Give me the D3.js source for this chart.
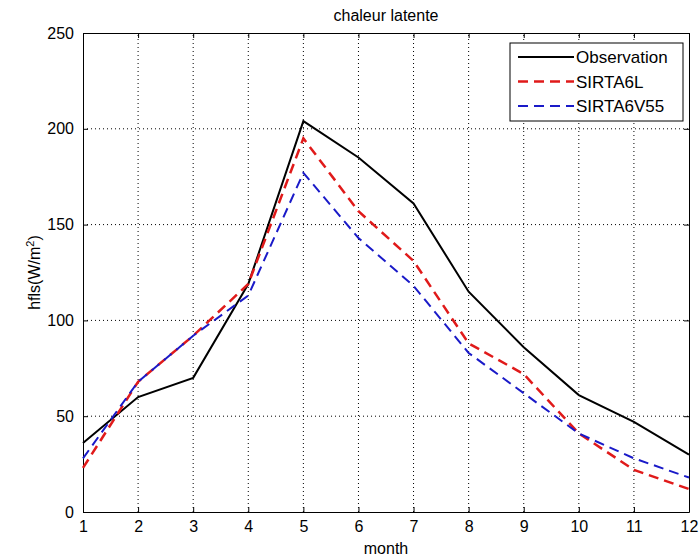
<!DOCTYPE html>
<html>
<head>
<meta charset="utf-8">
<script src="https://cdn.jsdelivr.net/npm/d3@7"></script>
<style>
body { margin: 0; background: #fff; }
text { font-family: "Liberation Sans Narrow", "Liberation Sans", Arial, sans-serif; fill: #000; }
</style>
</head>
<body>
<div id="chart"></div>
<script>
// data
var months = [1, 2, 3, 4, 5, 6, 7, 8, 9, 10, 11, 12];
var observation = [36, 60, 70, 119, 204, 185, 161, 115, 86, 61, 47, 30];
var sirta6l = [23, 68, 92, 119, 195, 157, 131, 88, 72, 41, 22, 12];
var sirta6v55 = [28, 68, 92, 113, 177, 143, 118, 83, 62, 41, 28, 18];
var yTicks = [0, 50, 100, 150, 200, 250];
var seriesNames = ["Observation", "SIRTA6L", "SIRTA6V55"];

var W = 699, H = 559;
var m = {left: 83, right: 10, top: 33, bottom: 47};

var svg = d3.select("#chart").append("svg")
	.attr("width", W).attr("height", H);

var x = d3.scaleLinear().domain([1, 12]).range([m.left, W - m.right]);
var y = d3.scaleLinear().domain([0, 250]).range([H - m.bottom, m.top]);

// dotted grid
svg.append("g").selectAll("line")
	.data(months.slice(1, -1))
	.enter().append("line")
	.attr("x1", function(d){ return x(d); })
	.attr("x2", function(d){ return x(d); })
	.attr("y1", y(0)).attr("y2", y(250))
	.attr("stroke", "#000").attr("stroke-width", 1)
	.attr("stroke-dasharray", "1,3");
svg.append("g").selectAll("line")
	.data(yTicks.slice(1, -1))
	.enter().append("line")
	.attr("y1", function(d){ return y(d); })
	.attr("y2", function(d){ return y(d); })
	.attr("x1", x(1)).attr("x2", x(12))
	.attr("stroke", "#000").attr("stroke-width", 1)
	.attr("stroke-dasharray", "1,3");

// axes, ticks pointing inward
var fontSize = "16px";
svg.append("g")
	.attr("transform", "translate(0," + y(0) + ")")
	.call(d3.axisBottom(x).tickValues(months).tickFormat(d3.format("d")).tickSizeInner(-5).tickSizeOuter(0).tickPadding(9))
	.call(function(g){ g.selectAll("text").style("font-size", fontSize).style("font-family", null); });
svg.append("g")
	.attr("transform", "translate(0," + y(250) + ")")
	.call(d3.axisTop(x).tickValues(months).tickFormat("").tickSizeInner(-5).tickSizeOuter(0));
svg.append("g")
	.attr("transform", "translate(" + x(1) + ",0)")
	.call(d3.axisLeft(y).tickValues(yTicks).tickSizeInner(-5).tickSizeOuter(0).tickPadding(9))
	.call(function(g){ g.selectAll("text").style("font-size", fontSize); });
svg.append("g")
	.attr("transform", "translate(" + x(12) + ",0)")
	.call(d3.axisRight(y).tickValues(yTicks).tickFormat("").tickSizeInner(-5).tickSizeOuter(0));
svg.selectAll(".domain").attr("stroke", "#000");
svg.selectAll(".tick text").attr("font-family", null);

// lines
var series = [
	{name: seriesNames[0], values: observation, color: "#000000", width: 2, dash: null},
	{name: seriesNames[1], values: sirta6l, color: "#e01a1a", width: 2.5, dash: "10,6"},
	{name: seriesNames[2], values: sirta6v55, color: "#1a1ac8", width: 2, dash: "10,6"}
];
var line = d3.line()
	.x(function(d, i){ return x(months[i]); })
	.y(function(d){ return y(d); });

svg.selectAll("path.series")
	.data(series)
	.enter().append("path")
	.attr("class", "series")
	.attr("d", function(d){ return line(d.values); })
	.attr("fill", "none")
	.attr("stroke", function(d){ return d.color; })
	.attr("stroke-width", function(d){ return d.width; })
	.attr("stroke-dasharray", function(d){ return d.dash; });

// legend
var lg = svg.append("g").attr("transform", "translate(510,43)");
lg.append("rect").attr("width", 173).attr("height", 78)
	.attr("fill", "#fff").attr("stroke", "#000").attr("stroke-width", 1);
var rows = lg.selectAll("g.row").data(series).enter().append("g")
	.attr("transform", function(d, i){ return "translate(0," + (14 + i * 24.5) + ")"; });
rows.append("line")
	.attr("x1", 8).attr("x2", 64).attr("y1", 0).attr("y2", 0)
	.attr("stroke", function(d){ return d.color; })
	.attr("stroke-width", function(d){ return d.width; })
	.attr("stroke-dasharray", function(d){ return d.dash; });
rows.append("text")
	.attr("x", 66).attr("y", 6)
	.style("font-size", "17px")
	.text(function(d){ return d.name; });

// titles
svg.append("text")
	.attr("x", (x(1) + x(12)) / 2).attr("y", 21)
	.attr("text-anchor", "middle").style("font-size", "16px")
	.text("chaleur latente");
svg.append("text")
	.attr("x", (x(1) + x(12)) / 2).attr("y", 554)
	.attr("text-anchor", "middle").style("font-size", "16px")
	.text("month");
var yl = svg.append("text")
	.attr("transform", "translate(40," + ((y(0) + y(250)) / 2) + ") rotate(-90)")
	.attr("text-anchor", "middle").style("font-size", "16px");
yl.append("tspan").text("hfls(W/m");
yl.append("tspan").attr("baseline-shift", "super").style("font-size", "11px").text("2");
yl.append("tspan").text(")");
</script>
</body>
</html>
